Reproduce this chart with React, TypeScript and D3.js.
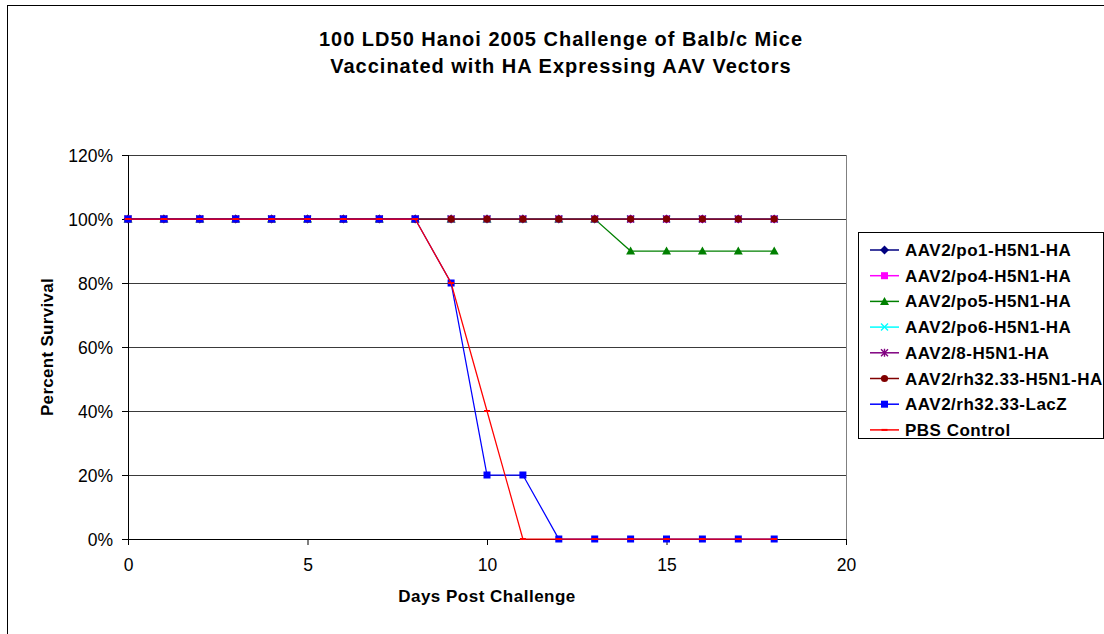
import React from "react";
import * as d3 from "d3";

const days = [0, 1, 2, 3, 4, 5, 6, 7, 8, 9, 10, 11, 12, 13, 14, 15, 16, 17, 18];
const po1 = [100, 100, 100, 100, 100, 100, 100, 100, 100, 100, 100, 100, 100, 100, 100, 100, 100, 100, 100];
const po4 = [100, 100, 100, 100, 100, 100, 100, 100, 100, 100, 100, 100, 100, 100, 100, 100, 100, 100, 100];
const po5 = [100, 100, 100, 100, 100, 100, 100, 100, 100, 100, 100, 100, 100, 100, 90, 90, 90, 90, 90];
const po6 = [100, 100, 100, 100, 100, 100, 100, 100, 100, 100, 100, 100, 100, 100, 100, 100, 100, 100, 100];
const aav8 = [100, 100, 100, 100, 100, 100, 100, 100, 100, 100, 100, 100, 100, 100, 100, 100, 100, 100, 100];
const rh3233 = [100, 100, 100, 100, 100, 100, 100, 100, 100, 100, 100, 100, 100, 100, 100, 100, 100, 100, 100];
const lacZ = [100, 100, 100, 100, 100, 100, 100, 100, 100, 80, 20, 20, 0, 0, 0, 0, 0, 0, 0];
const pbs = [100, 100, 100, 100, 100, 100, 100, 100, 100, 80, 40, 0, 0, 0, 0, 0, 0, 0, 0];

const seriesNames = [
  "AAV2/po1-H5N1-HA",
  "AAV2/po4-H5N1-HA",
  "AAV2/po5-H5N1-HA",
  "AAV2/po6-H5N1-HA",
  "AAV2/8-H5N1-HA",
  "AAV2/rh32.33-H5N1-HA",
  "AAV2/rh32.33-LacZ",
  "PBS Control",
];
const seriesValues = [po1, po4, po5, po6, aav8, rh3233, lacZ, pbs];
const seriesColors = ["#000080", "#FF00FF", "#008000", "#00FFFF", "#800080", "#800000", "#0000FF", "#FF0000"];
const seriesMarkers = ["diamond", "square", "triangle", "x", "star", "circle", "square", "dash"];

const xTicks = [0, 5, 10, 15, 20];
const yTicks = [0, 20, 40, 60, 80, 100, 120];

const titleLines = ["100 LD50 Hanoi 2005 Challenge of Balb/c Mice", "Vaccinated with HA Expressing AAV Vectors"];

const FONT = "'Liberation Sans', Arial, sans-serif";

function Marker({ type, x, y, color }: { type: string; x: number; y: number; color: string }) {
  switch (type) {
    case "diamond":
      return <path d={`M${x},${y - 4.5}L${x + 4.5},${y}L${x},${y + 4.5}L${x - 4.5},${y}Z`} fill={color} />;
    case "square":
      return <rect x={x - 3.5} y={y - 3.5} width={7} height={7} fill={color} />;
    case "triangle":
      return <path d={`M${x},${y - 4.5}L${x + 4.5},${y + 3.5}L${x - 4.5},${y + 3.5}Z`} fill={color} />;
    case "x":
      return (
        <path d={`M${x - 3.5},${y - 3.5}L${x + 3.5},${y + 3.5}M${x + 3.5},${y - 3.5}L${x - 3.5},${y + 3.5}`} stroke={color} strokeWidth={1.4} />
      );
    case "star":
      return (
        <path
          d={`M${x - 3.5},${y - 3.5}L${x + 3.5},${y + 3.5}M${x + 3.5},${y - 3.5}L${x - 3.5},${y + 3.5}M${x},${y - 4}L${x},${y + 4}`}
          stroke={color}
          strokeWidth={1.4}
        />
      );
    case "circle":
      return <circle cx={x} cy={y} r={3.6} fill={color} />;
    case "dash":
      return <path d={`M${x - 3},${y}L${x + 3},${y}`} stroke={color} strokeWidth={2} />;
    default:
      return null;
  }
}

export default function App() {
  const W = 1104;
  const H = 634;
  const left = 128;
  const right = 846;
  const top = 155;
  const bottom = 539;

  const x = d3.scaleLinear().domain([0, 20]).range([left, right]);
  const y = d3.scaleLinear().domain([0, 120]).range([bottom, top]);

  const line = d3
    .line<number>()
    .x((_, i) => x(days[i]))
    .y((v) => y(v));

  const legX = 858;
  const legY = 232;
  const legW = 245;
  const legH = 206;
  const rowY = (i: number) => 250 + i * 25.7;

  return (
    <svg
      width={W}
      height={H}
      style={{ position: "absolute", left: 0, top: 0, background: "#fff" }}
      fontFamily={FONT}
    >
      <rect x={0} y={0} width={W} height={H} fill="#fff" />
      {/* outer chart border */}
      <rect x={7.5} y={5.5} width={W + 20} height={H + 20} fill="none" stroke="#000" strokeWidth={1} />

      {/* title */}
      {titleLines.map((t, i) => (
        <text
          key={i}
          x={561}
          y={46 + i * 27}
          textAnchor="middle"
          fontSize={20}
          fontWeight="bold"
          letterSpacing={1}
          fill="#000"
        >
          {t}
        </text>
      ))}

      {/* gridlines */}
      {yTicks
        .filter((t) => t > 0)
        .map((t) => (
          <line key={t} x1={left} x2={right} y1={y(t) + 0.5} y2={y(t) + 0.5} stroke="#3a3a3a" strokeWidth={1} />
        ))}
      {/* plot right border */}
      <line x1={right + 0.5} x2={right + 0.5} y1={top} y2={bottom} stroke="#808080" strokeWidth={1} />

      {/* axes */}
      <line x1={left + 0.5} x2={left + 0.5} y1={top} y2={bottom + 0.5} stroke="#000" />
      <line x1={left} x2={right + 1} y1={bottom + 0.5} y2={bottom + 0.5} stroke="#000" />
      {yTicks.map((t) => (
        <g key={t}>
          <line x1={left - 6} x2={left} y1={y(t) + 0.5} y2={y(t) + 0.5} stroke="#000" />
          <text x={113} y={y(t) + 6.5} textAnchor="end" fontSize={17.5} fill="#000">
            {`${t}%`}
          </text>
        </g>
      ))}
      {xTicks.map((t) => (
        <g key={t}>
          <line x1={x(t) + 0.5} x2={x(t) + 0.5} y1={bottom} y2={bottom + 6} stroke="#000" />
          <text x={x(t) + 0.5} y={571} textAnchor="middle" fontSize={17.5} fill="#000">
            {t}
          </text>
        </g>
      ))}

      {/* axis titles */}
      <text x={487} y={602} textAnchor="middle" fontSize={17} fontWeight="bold" letterSpacing={0.5} fill="#000">
        Days Post Challenge
      </text>
      <text
        transform={`translate(53,347) rotate(-90)`}
        textAnchor="middle"
        fontSize={17}
        fontWeight="bold"
        letterSpacing={0.3}
        fill="#000"
      >
        Percent Survival
      </text>

      {/* series */}
      {seriesValues.map((vals, si) => (
        <g key={si}>
          <path d={line(vals) || ""} fill="none" stroke={seriesColors[si]} strokeWidth={1.25} />
          {vals.map((v, i) => (
            <Marker key={i} type={seriesMarkers[si]} x={x(days[i])} y={y(v)} color={seriesColors[si]} />
          ))}
        </g>
      ))}

      {/* legend */}
      <rect x={legX + 0.5} y={legY + 0.5} width={legW} height={legH} fill="#fff" stroke="#000" strokeWidth={1} />
      {seriesNames.map((name, i) => (
        <g key={name}>
          <line x1={870} x2={899} y1={rowY(i)} y2={rowY(i)} stroke={seriesColors[i]} strokeWidth={1.5} />
          <Marker type={seriesMarkers[i]} x={884.5} y={rowY(i)} color={seriesColors[i]} />
          <text x={905} y={rowY(i) + 6} fontSize={17} fontWeight="bold" letterSpacing={0.5} fill="#000">
            {name}
          </text>
        </g>
      ))}
    </svg>
  );
}
